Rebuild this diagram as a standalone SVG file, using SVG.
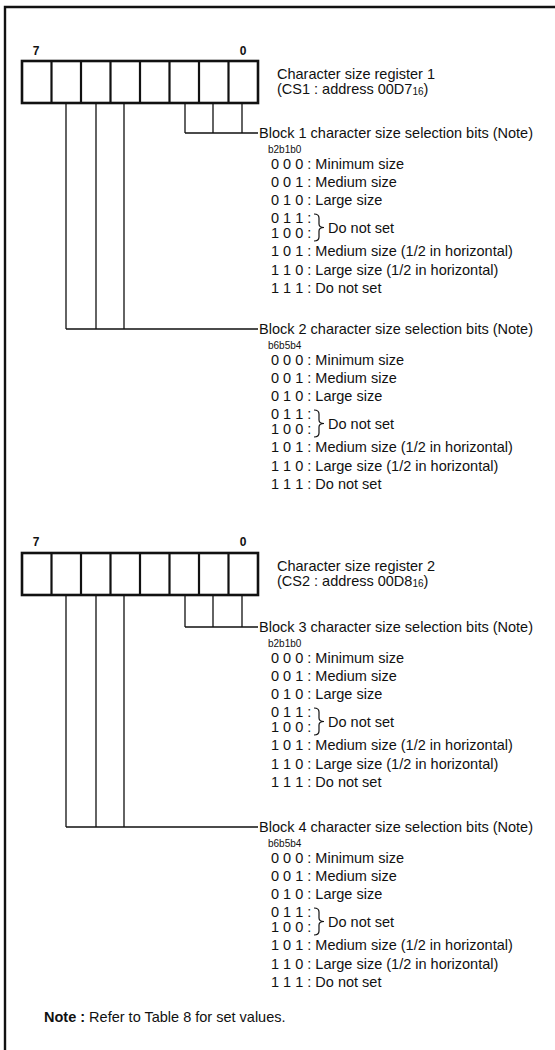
<svg xmlns="http://www.w3.org/2000/svg" width="555" height="1050" viewBox="0 0 555 1050">
<style>
.t{font-family:"Liberation Sans",Arial,sans-serif;font-size:14.5px;fill:#111}
.s{font-family:"Liberation Sans",Arial,sans-serif;font-size:10px;fill:#111}
.n{font-family:"Liberation Sans",Arial,sans-serif;font-size:12px;font-weight:bold;fill:#111}
.box{fill:#fff;stroke:#111;stroke-width:2.6}
.div{stroke:#111;stroke-width:2.2}
.ln{fill:none;stroke:#111;stroke-width:1.3}
.br{fill:none;stroke:#111;stroke-width:1.2}
</style>
<defs>
<g id="reg">
<rect class="box" x="22" y="0" width="236" height="42"/>
<path class="div" d="M51.5 0V42M81 0V42M110.5 0V42M140 0V42M169.5 0V42M199 0V42M228.5 0V42"/>
</g>
</defs>
<rect width="555" height="1050" fill="#fff"/>
<g id="frame"><path d="M5 1050V7H555" fill="none" stroke="#111" stroke-width="2.4"/></g>

<g id="register1">
<text class="n" x="36" y="55" text-anchor="middle">7</text>
<text class="n" x="243" y="55" text-anchor="middle">0</text>
<use href="#reg" y="61"/>
<text class="t" x="277" y="79">Character size register 1</text>
<text class="t" x="277" y="94">(CS1 : address 00D7<tspan font-size="10px" dy="1">16</tspan><tspan dy="-1">)</tspan></text>
</g>

<g id="register2">
<text class="n" x="36" y="546" text-anchor="middle">7</text>
<text class="n" x="243" y="546" text-anchor="middle">0</text>
<use href="#reg" y="553"/>
<text class="t" x="277" y="571">Character size register 2</text>
<text class="t" x="277" y="586">(CS2 : address 00D8<tspan font-size="10px" dy="1">16</tspan><tspan dy="-1">)</tspan></text>
</g>

<g id="connectors">
<path class="ln" d="M185 103V133M213 103V133M242 103V133M185 133H258"/>
<path class="ln" d="M66 103V329M96 103V329M124 103V329M66 329H258"/>
<path class="ln" d="M185 595V627M213 595V627M242 595V627M185 627H258"/>
<path class="ln" d="M66 595V827M96 595V827M124 595V827M66 827H258"/>
</g>

<g id="block1" transform="translate(0,133)">
<text class="t" x="259" y="5">Block 1 character size selection bits (Note)</text>
<text class="s" x="268" y="19.5">b2b1b0</text>
<text class="t" x="271" y="36">0 0 0 : Minimum size</text>
<text class="t" x="271" y="54">0 0 1 : Medium size</text>
<text class="t" x="271" y="72">0 1 0 : Large size</text>
<text class="t" x="271" y="89.5">0 1 1 :</text>
<text class="t" x="271" y="105">1 0 0 :</text>
<path class="br" d="M314 81Q319 81 319 85V91Q319 94.5 324 94.5Q319 94.5 319 98V104Q319 108 314 108"/>
<text class="t" x="328" y="99.5">Do not set</text>
<text class="t" x="271" y="123">1 0 1 : Medium size (1/2 in horizontal)</text>
<text class="t" x="271" y="141.5">1 1 0 : Large size (1/2 in horizontal)</text>
<text class="t" x="271" y="160">1 1 1 : Do not set</text>
</g>

<g id="block2" transform="translate(0,329)">
<text class="t" x="259" y="5">Block 2 character size selection bits (Note)</text>
<text class="s" x="268" y="19.5">b6b5b4</text>
<text class="t" x="271" y="36">0 0 0 : Minimum size</text>
<text class="t" x="271" y="54">0 0 1 : Medium size</text>
<text class="t" x="271" y="72">0 1 0 : Large size</text>
<text class="t" x="271" y="89.5">0 1 1 :</text>
<text class="t" x="271" y="105">1 0 0 :</text>
<path class="br" d="M314 81Q319 81 319 85V91Q319 94.5 324 94.5Q319 94.5 319 98V104Q319 108 314 108"/>
<text class="t" x="328" y="99.5">Do not set</text>
<text class="t" x="271" y="123">1 0 1 : Medium size (1/2 in horizontal)</text>
<text class="t" x="271" y="141.5">1 1 0 : Large size (1/2 in horizontal)</text>
<text class="t" x="271" y="160">1 1 1 : Do not set</text>
</g>

<g id="block3" transform="translate(0,627)">
<text class="t" x="259" y="5">Block 3 character size selection bits (Note)</text>
<text class="s" x="268" y="19.5">b2b1b0</text>
<text class="t" x="271" y="36">0 0 0 : Minimum size</text>
<text class="t" x="271" y="54">0 0 1 : Medium size</text>
<text class="t" x="271" y="72">0 1 0 : Large size</text>
<text class="t" x="271" y="89.5">0 1 1 :</text>
<text class="t" x="271" y="105">1 0 0 :</text>
<path class="br" d="M314 81Q319 81 319 85V91Q319 94.5 324 94.5Q319 94.5 319 98V104Q319 108 314 108"/>
<text class="t" x="328" y="99.5">Do not set</text>
<text class="t" x="271" y="123">1 0 1 : Medium size (1/2 in horizontal)</text>
<text class="t" x="271" y="141.5">1 1 0 : Large size (1/2 in horizontal)</text>
<text class="t" x="271" y="160">1 1 1 : Do not set</text>
</g>

<g id="block4" transform="translate(0,827)">
<text class="t" x="259" y="5">Block 4 character size selection bits (Note)</text>
<text class="s" x="268" y="19.5">b6b5b4</text>
<text class="t" x="271" y="36">0 0 0 : Minimum size</text>
<text class="t" x="271" y="54">0 0 1 : Medium size</text>
<text class="t" x="271" y="72">0 1 0 : Large size</text>
<text class="t" x="271" y="89.5">0 1 1 :</text>
<text class="t" x="271" y="105">1 0 0 :</text>
<path class="br" d="M314 81Q319 81 319 85V91Q319 94.5 324 94.5Q319 94.5 319 98V104Q319 108 314 108"/>
<text class="t" x="328" y="99.5">Do not set</text>
<text class="t" x="271" y="123">1 0 1 : Medium size (1/2 in horizontal)</text>
<text class="t" x="271" y="141.5">1 1 0 : Large size (1/2 in horizontal)</text>
<text class="t" x="271" y="160">1 1 1 : Do not set</text>
</g>

<g id="note">
<text class="t" x="44" y="1022"><tspan font-weight="bold">Note :</tspan> Refer to Table 8 for set values.</text>
</g>
</svg>
